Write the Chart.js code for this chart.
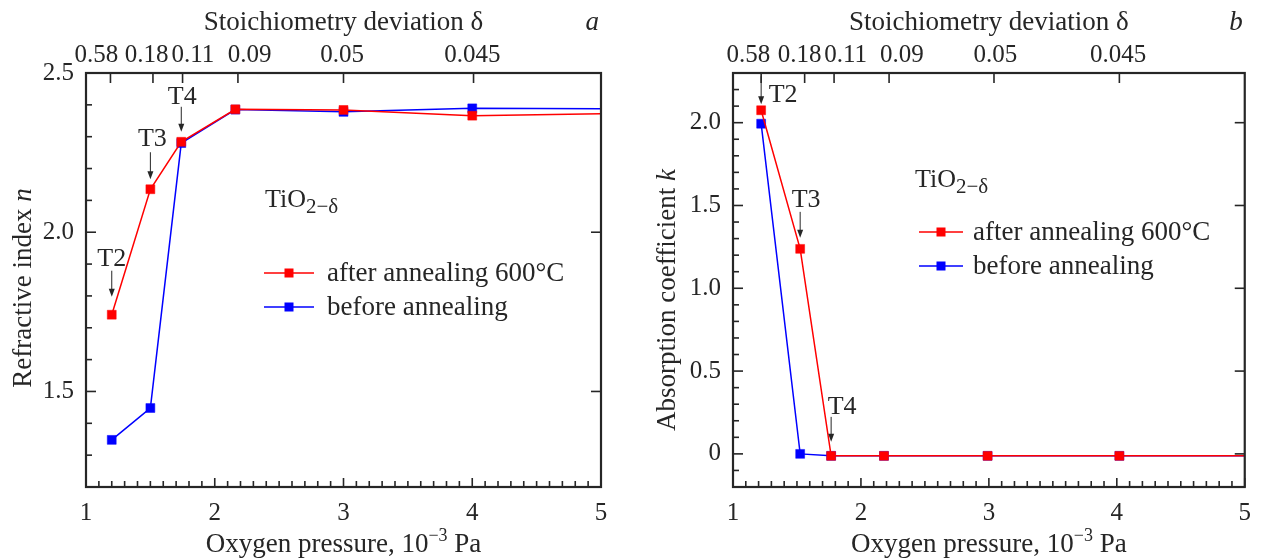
<!DOCTYPE html>
<html>
<head>
<meta charset="utf-8">
<script src="https://cdn.jsdelivr.net/npm/chart.js@4.4.1/dist/chart.umd.min.js"></script>
<style>
  html, body { margin: 0; padding: 0; background: #fff; }
  #wrap { position: relative; width: 1262px; height: 560px; }
  canvas { position: absolute; top: 0; }
  #panelA { left: 0; }
  #panelB { left: 631px; }
</style>
</head>
<body>
<div id="wrap">
  <canvas id="panelA" width="631" height="560"></canvas>
  <canvas id="panelB" width="631" height="560"></canvas>
</div>
<script>
// ---- data ----
// panel a: refractive index n
const pressureA = [1.2, 1.5, 1.74, 2.16, 3.0, 4.0, 5.0];
const nAfter    = [1.741, 2.135, 2.284, 2.386, 2.384, 2.366, 2.372];
const nBefore   = [1.348, 1.448, 2.280, 2.385, 2.378, 2.389, 2.388];

// panel b: absorption coefficient k
const pressureB = [1.22, 1.525, 1.767, 2.18, 2.99, 4.02, 5.0];
const kAfter    = [2.075, 1.238, -0.012, -0.012, -0.012, -0.012, -0.012];
const kBefore   = [1.994, 0.0, -0.012, -0.012, -0.012, -0.012, -0.012];

// top axis: stoichiometry deviation (tick marks and where the crowded labels sit)
const deltaLabels = ['0.58', '0.18', '0.11', '0.09', '0.05', '0.045'];
const deltaPressA = [1.19, 1.52, 1.75, 2.18, 3.0, 4.01];
const deltaLabelAtA = [1.08, 1.47, 1.83, 2.27, 2.99, 4.0];
const deltaPressB = [1.22, 1.56, 1.79, 2.22, 3.04, 4.02];
const deltaLabelAtB = [1.12, 1.52, 1.88, 2.32, 3.05, 4.01];

const seriesNames = ['after annealing 600°C', 'before annealing'];

// ---- styles ----
const SERIF = '"Liberation Serif", "Times New Roman", serif';
const INK = '#262626';
const RED = 'rgb(255, 0, 0)';
const BLUE = 'rgb(0, 0, 255)';
const f = (size, style) => (style || '') + ' ' + size + 'px ' + SERIF;

function isMult(v, step) {
  const r = v / step;
  return Math.abs(r - Math.round(r)) < 1e-6;
}

function tickList(lo, hi, step) {
  const out = [];
  const n = Math.round((hi - lo) / step);
  for (let i = 0; i <= n; i++) out.push({ value: +(lo + i * step).toFixed(4) });
  return out;
}

function drawRich(ctx, segs, x, y, align) {
  let total = 0;
  segs.forEach(s => { ctx.font = s.font; s.w = ctx.measureText(s.t).width; total += s.w; });
  let cx = align === 'center' ? x - total / 2 : (align === 'right' ? x - total : x);
  ctx.textAlign = 'left';
  ctx.textBaseline = 'alphabetic';
  segs.forEach(s => { ctx.font = s.font; ctx.fillText(s.t, cx, y + (s.dy || 0)); cx += s.w; });
}

function line(ctx, x1, y1, x2, y2) {
  ctx.beginPath();
  ctx.moveTo(x1, y1);
  ctx.lineTo(x2, y2);
  ctx.stroke();
}

// frame, inward ticks, titles, legend and T-labels
const decor = {
  id: 'decor',
  afterDraw(chart, args, o) {
    const { ctx, chartArea: a, scales } = chart;
    const xs = scales.x, ys = scales.y, x2 = scales.x2;
    ctx.save();
    ctx.strokeStyle = INK;
    ctx.fillStyle = INK;

    // ticks
    ctx.lineWidth = 1.6;
    xs.ticks.forEach(t => {
      const px = xs.getPixelForValue(t.value);
      line(ctx, px, a.bottom, px, a.bottom - (isMult(t.value, 1) ? 9 : 6));
    });
    o.topTicks.forEach(v => {
      const px = x2.getPixelForValue(v);
      line(ctx, px, a.top, px, a.top + 10);
    });
    ys.ticks.forEach(t => {
      const py = ys.getPixelForValue(t.value);
      const major = isMult(t.value, 0.5);
      line(ctx, a.left, py, a.left + (major ? 10 : 6), py);
      if (major) line(ctx, a.right, py, a.right - 10, py);
    });

    // frame
    ctx.lineWidth = 2.2;
    ctx.strokeRect(a.left, a.top, a.right - a.left, a.bottom - a.top);

    // axis titles
    const cx = (a.left + a.right) / 2;
    drawRich(ctx, [
      { t: 'Oxygen pressure, 10', font: f(27) },
      { t: '\u22123', font: f(18), dy: -11 },
      { t: ' Pa', font: f(27) }
    ], cx, 552, 'center');
    drawRich(ctx, [{ t: 'Stoichiometry deviation \u03b4', font: f(27) }], cx, 30, 'center');
    drawRich(ctx, [{ t: o.letter, font: f(27, 'italic') }], a.right - 2, 30, 'right');

    ctx.save();
    ctx.translate(o.yTitleX, o.yTitleY);
    ctx.rotate(-Math.PI / 2);
    drawRich(ctx, o.yTitle, 0, 0, 'center');
    ctx.restore();

    // compound label
    drawRich(ctx, [
      { t: 'TiO', font: f(26) },
      { t: '2\u2212\u03b4', font: f(21), dy: 6 }
    ], a.left + o.tio.dx, o.tio.y, 'left');

    // legend
    const lg = o.legend;
    chart.data.datasets.forEach((ds, i) => {
      const y = lg.y[i];
      const x0 = a.left + lg.dx;
      ctx.strokeStyle = ds.borderColor;
      ctx.fillStyle = ds.backgroundColor;
      ctx.lineWidth = 1.5;
      line(ctx, x0, y, x0 + lg.len, y);
      ctx.fillRect(x0 + lg.len / 2 - 4.5, y - 4.5, 9, 9);
      ctx.fillStyle = INK;
      ctx.font = f(27);
      ctx.textAlign = 'left';
      ctx.textBaseline = 'middle';
      ctx.fillText(ds.label, x0 + lg.len + lg.gap, y + 1);
    });

    // T-labels with arrows, anchored on data points
    ctx.strokeStyle = INK;
    ctx.fillStyle = INK;
    o.notes.forEach(n => {
      const pt = chart.data.datasets[n.ds].data[n.i];
      const px = xs.getPixelForValue(pt.x);
      const py = ys.getPixelForValue(pt.y);
      ctx.lineWidth = 1;
      line(ctx, px, py + n.a1, px, py + n.a2 - 6);
      ctx.beginPath();
      ctx.moveTo(px, py + n.a2);
      ctx.lineTo(px - 3, py + n.a2 - 8);
      ctx.lineTo(px + 3, py + n.a2 - 8);
      ctx.closePath();
      ctx.fill();
      ctx.font = f(26);
      ctx.textAlign = 'center';
      ctx.textBaseline = 'middle';
      ctx.fillText(n.text, px + n.tx, py + n.ty);
    });
    ctx.restore();
  }
};

function pairs(xs, ys) {
  return xs.map((x, i) => ({ x: x, y: ys[i] }));
}

function seriesStyle(color) {
  return {
    borderColor: color,
    backgroundColor: color,
    borderWidth: 1.5,
    pointStyle: 'rect',
    pointBorderColor: color,
    pointBackgroundColor: color,
    pointBorderWidth: 0.5,
    pointRadius: c => (c.dataIndex === c.dataset.data.length - 1 ? 0 : 6.3),
    tension: 0
  };
}

function makePanel(id, p) {
  const tickFont = { family: SERIF, size: 25 };
  return new Chart(document.getElementById(id), {
    type: 'line',
    data: {
      datasets: [
        Object.assign({ label: seriesNames[0], data: p.after }, seriesStyle(RED)),
        Object.assign({ label: seriesNames[1], data: p.before }, seriesStyle(BLUE))
      ]
    },
    options: {
      responsive: false,
      animation: false,
      layout: { padding: { left: 0, right: p.padRight, top: 0, bottom: 0 } },
      plugins: {
        legend: { display: false },
        tooltip: { enabled: false },
        decor: Object.assign({ topTicks: p.deltaPos }, p.decor)
      },
      scales: {
        x: {
          type: 'linear', position: 'bottom', min: 1, max: 5,
          grid: { display: false, drawTicks: false },
          border: { display: false },
          afterBuildTicks: s => { s.ticks = tickList(1, 5, 0.1); },
          ticks: {
            autoSkip: false, maxRotation: 0, padding: 11, color: INK, font: tickFont,
            callback: v => (isMult(v, 1) ? String(Math.round(v)) : '')
          },
          afterFit: s => { s.height = 73; }
        },
        x2: {
          type: 'linear', position: 'top', min: 1, max: 5,
          grid: { display: false, drawTicks: false },
          border: { display: false },
          afterBuildTicks: s => { s.ticks = p.deltaLabelAt.map(v => ({ value: v })); },
          ticks: {
            autoSkip: false, maxRotation: 0, padding: 3, color: INK, font: tickFont,
            callback: (v, i) => deltaLabels[i]
          },
          afterFit: s => { s.height = 73; }
        },
        y: {
          type: 'linear', position: 'left', min: p.yMin, max: p.yMax,
          grid: { display: false, drawTicks: false },
          border: { display: false },
          afterBuildTicks: s => { s.ticks = tickList(p.yMin, p.yMax, 0.1); },
          ticks: {
            autoSkip: false, padding: 12, color: INK, font: tickFont,
            callback: p.yLabel
          },
          afterFit: s => { s.width = p.yWidth; }
        }
      }
    },
    plugins: [decor]
  });
}

makePanel('panelA', {
  after: pairs(pressureA, nAfter),
  before: pairs(pressureA, nBefore),
  deltaPos: deltaPressA,
  deltaLabelAt: deltaLabelAtA,
  yMin: 1.2, yMax: 2.5, yWidth: 86, padRight: 30,
  yLabel: v => (isMult(v, 0.5) ? v.toFixed(1) : ''),
  decor: {
    letter: 'a',
    yTitle: [{ t: 'Refractive index ', font: f(27) }, { t: 'n', font: f(27, 'italic') }],
    yTitleX: 31, yTitleY: 288,
    tio: { dx: 179, y: 207 },
    legend: { dx: 178, y: [273, 307], len: 50, gap: 13 },
    notes: [
      { ds: 0, i: 0, text: 'T2', tx: 0, ty: -56, a1: -44, a2: -18 },
      { ds: 0, i: 1, text: 'T3', tx: 2, ty: -50, a1: -37, a2: -10 },
      { ds: 0, i: 2, text: 'T4', tx: 1, ty: -45, a1: -35, a2: -10 }
    ]
  }
});

makePanel('panelB', {
  after: pairs(pressureB, kAfter),
  before: pairs(pressureB, kBefore),
  deltaPos: deltaPressB,
  deltaLabelAt: deltaLabelAtB,
  yMin: -0.2, yMax: 2.3, yWidth: 102, padRight: 13,
  yLabel: v => (Math.abs(v) < 1e-9 ? '0' : (isMult(v, 0.5) ? v.toFixed(1) : '')),
  decor: {
    letter: 'b',
    yTitle: [{ t: 'Absorption coefficient ', font: f(27) }, { t: 'k', font: f(27, 'italic') }],
    yTitleX: 44, yTitleY: 300,
    tio: { dx: 182, y: 187 },
    legend: { dx: 186, y: [232, 266], len: 44, gap: 10 },
    notes: [
      { ds: 0, i: 0, text: 'T2', tx: 22, ty: -15, a1: -34, a2: -6 },
      { ds: 0, i: 1, text: 'T3', tx: 6, ty: -49, a1: -37, a2: -11 },
      { ds: 0, i: 2, text: 'T4', tx: 11, ty: -49, a1: -39, a2: -14 }
    ]
  }
});
</script>
</body>
</html>
